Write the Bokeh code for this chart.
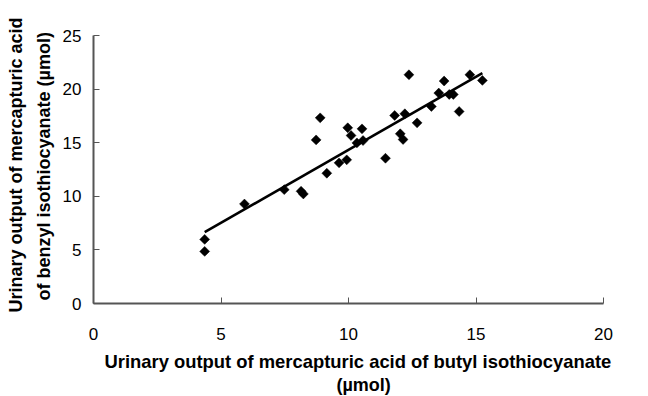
import numpy as np
from bokeh.plotting import figure
from bokeh.models import ColumnDataSource, Range1d, FixedTicker, Title
from bokeh.embed import file_html
from bokeh.resources import INLINE

# Data
butyl = [4.36, 4.36, 5.92, 7.48, 8.14, 8.23, 8.73, 8.89, 9.15, 9.63, 9.93,
         9.97, 10.10, 10.33, 10.53, 10.57, 11.45, 11.81, 12.03, 12.14, 12.21,
         12.37, 12.69, 13.25, 13.54, 13.75, 13.95, 14.11, 14.34, 14.76, 15.25]
benzyl = [5.98, 4.86, 9.28, 10.62, 10.47, 10.22, 15.26, 17.32, 12.15, 13.12, 13.40,
          16.39, 15.67, 14.98, 16.29, 15.20, 13.55, 17.54, 15.83, 15.30, 17.70,
          21.34, 16.85, 18.38, 19.63, 20.75, 19.50, 19.50, 17.91, 21.34, 20.81]
x_ticks = [0, 5, 10, 15, 20]
y_ticks = [0, 5, 10, 15, 20, 25]
x_title = ["Urinary output of mercapturic acid of butyl isothiocyanate", "(\u00b5mol)"]
y_title = ["Urinary output of mercapturic acid", "of benzyl isothiocyanate (\u00b5mol)"]

# Linear least-squares trend line
slope, intercept = np.polyfit(butyl, benzyl, 1)
tx = [min(butyl), max(butyl)]
ty = [slope * v + intercept for v in tx]

p = figure(width=644, height=396, output_backend="svg", toolbar_location=None,
           x_range=Range1d(0, 20), y_range=Range1d(0, 25),
           min_border_left=93, min_border_right=41, min_border_top=35, min_border_bottom=93)
p.outline_line_color = None
p.xgrid.visible = False
p.ygrid.visible = False
p.background_fill_color = "white"
p.border_fill_color = "white"

p.line(tx, ty, line_color="black", line_width=2.6)
src = ColumnDataSource(dict(x=butyl, y=benzyl))
p.scatter("x", "y", source=src, marker="square", size=7, angle=np.pi / 4,
          fill_color="black", line_color="black", line_width=0.5)

for ax, ticks in ((p.xaxis[0], x_ticks), (p.yaxis[0], y_ticks)):
    ax.ticker = FixedTicker(ticks=ticks)
    ax.minor_tick_line_color = None
    ax.major_tick_in = 6
    ax.major_tick_out = 0
    ax.major_tick_line_color = "#555555"
    ax.axis_line_color = "#555555"
    ax.axis_line_width = 2
    ax.major_label_text_font = "Liberation Sans"
    ax.major_label_text_font_size = "17px"
    ax.major_label_text_color = "black"

p.xaxis.major_label_standoff = 24
p.yaxis.major_label_standoff = 12


def add_title(text, loc, standoff, offset, size="18px"):
    t = Title(text=text, align="left", offset=offset, standoff=standoff,
              text_font="Liberation Sans", text_font_size=size,
              text_font_style="bold", text_color="black")
    p.add_layout(t, loc)


add_title(x_title[0], "below", 12, 11, "18.4px")
add_title(x_title[1], "below", -10, 243)
add_title(y_title[1], "left", 12, 3)
add_title(y_title[0], "left", 0, -9)

open("out.html", "w").write(file_html(p, INLINE))
